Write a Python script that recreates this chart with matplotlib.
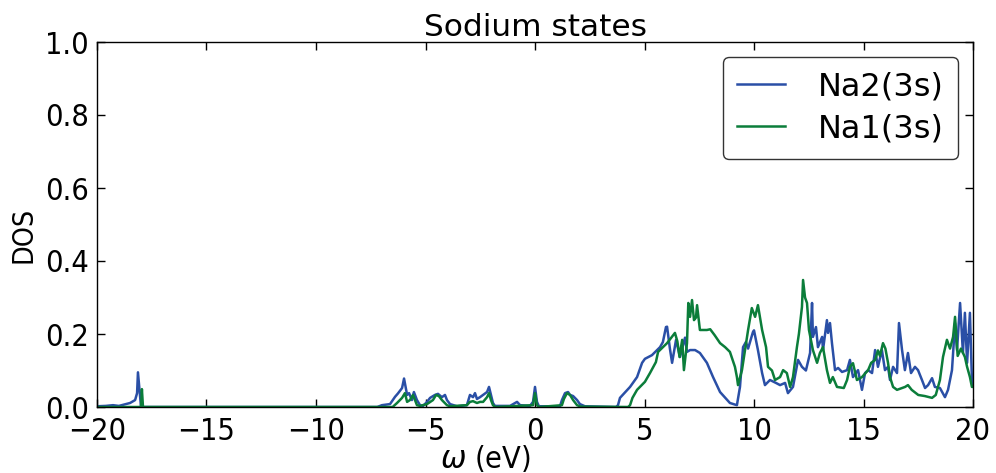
import matplotlib
matplotlib.use("Agg")
import matplotlib.pyplot as plt
import numpy as np

# Na2(3s) DOS (blue)
na2_x = [-20.0, -19.6, -19.27, -19.0, -18.81, -18.49, -18.26, -18.17, -18.13, -18.06, -17.99,
         -7.2, -6.99, -6.62, -6.39, -6.26, -6.07, -5.98, -5.84, -5.75, -5.62, -5.53, -5.39, -5.25,
         -5.11, -4.93, -4.79, -4.57, -4.43, -4.25, -4.11, -4.02, -3.88, -3.56, -3.11,
         -2.97, -2.83, -2.74, -2.65, -2.51, -2.37, -2.19, -2.10, -2.01, -1.92, -1.83,
         -1.14, -0.91, -0.82, -0.68, -0.23, -0.09, 0.0, 0.09, 0.18,
         1.14, 1.23, 1.37, 1.51, 1.60, 1.74, 1.92, 2.05, 2.28,
         3.70, 3.79, 3.88, 4.34, 4.66, 4.89, 5.02, 5.34, 5.71, 5.84, 5.98, 6.03, 6.16, 6.26,
         6.44, 6.62, 6.85, 6.94, 7.08, 7.31, 7.53, 7.85, 8.13, 8.45, 8.90, 9.22,
         9.36, 9.50, 9.63, 9.73, 9.95, 10.0, 10.18, 10.37, 10.50, 10.73, 11.0, 11.19, 11.42,
         11.55, 11.78, 12.01, 12.19, 12.37, 12.56, 12.65, 12.69, 12.83, 12.92, 13.11, 13.15,
         13.33, 13.38, 13.47, 13.56, 13.70, 13.84, 14.02, 14.25, 14.38, 14.52, 14.75, 14.93,
         15.07, 15.21, 15.39, 15.53, 15.66, 15.84, 15.98, 16.12, 16.21, 16.35, 16.53, 16.62,
         16.76, 16.89, 17.03, 17.17, 17.35, 17.49, 17.67, 17.81, 17.95, 18.13, 18.26, 18.49,
         18.72, 18.86, 19.04, 19.18, 19.27, 19.41, 19.54, 19.63, 19.73, 19.86, 19.95, 20.0]
na2_y = [0.002, 0.003, 0.005, 0.003, 0.006, 0.011, 0.019, 0.038, 0.095, 0.047, 0.0,
         0.0, 0.005, 0.008, 0.028, 0.037, 0.052, 0.078, 0.033, 0.038, 0.019, 0.041, 0.019, 0.005,
         0.003, 0.014, 0.025, 0.033, 0.036, 0.027, 0.033, 0.019, 0.008, 0.002, 0.005,
         0.033, 0.027, 0.038, 0.022, 0.027, 0.033, 0.041, 0.055, 0.033, 0.011, 0.003,
         0.003, 0.011, 0.014, 0.005, 0.003, 0.014, 0.055, 0.014, 0.002,
         0.002, 0.019, 0.038, 0.041, 0.033, 0.030, 0.019, 0.008, 0.002,
         0.0, 0.005, 0.025, 0.055, 0.082, 0.121, 0.132, 0.142, 0.164, 0.178, 0.219, 0.22, 0.16, 0.121,
         0.184, 0.137, 0.19, 0.151, 0.156, 0.156, 0.148, 0.121, 0.082, 0.041, 0.011, 0.005,
         0.055, 0.164, 0.178, 0.16, 0.205, 0.21, 0.156, 0.093, 0.060, 0.074, 0.066, 0.06, 0.066,
         0.038, 0.055, 0.129, 0.11, 0.10, 0.148, 0.285, 0.192, 0.219, 0.164, 0.192, 0.156,
         0.238, 0.203, 0.23, 0.175, 0.101, 0.107, 0.096, 0.101, 0.129, 0.082, 0.101, 0.047,
         0.093, 0.101, 0.093, 0.156, 0.11, 0.156, 0.101, 0.11, 0.074, 0.11, 0.093, 0.23,
         0.156, 0.101, 0.148, 0.093, 0.11, 0.101, 0.074, 0.052, 0.06, 0.079, 0.055, 0.052,
         0.027, 0.047, 0.101, 0.23, 0.156, 0.285, 0.148, 0.258, 0.121, 0.258, 0.074, 0.06]

# Na1(3s) DOS (green)
na1_x = [-20.0, -17.99, -17.95, -17.90, -6.5, -6.30, -6.07, -5.94, -5.84, -5.71, -5.57, -5.39,
         -5.25, -4.93, -4.66, -4.52, -4.39, -4.25, -4.02, -3.88, -3.11, -2.97, -2.83, -2.65,
         -2.51, -2.37, -2.19, -2.10, -2.01, -1.92, -1.80, -0.09, 0.0, 0.09, 0.2,
         1.23, 1.32, 1.46, 1.60, 1.74, 1.92, 2.1,
         4.25, 4.34, 4.45, 4.66, 5.02, 5.25, 5.52, 5.62, 6.03, 6.39, 6.5, 6.6, 6.72, 6.8,
         6.94, 7.0, 7.08, 7.17, 7.26, 7.35, 7.40, 7.53, 7.85, 8.0, 8.2, 8.45, 8.68, 8.90,
         9.13, 9.22, 9.27, 9.45, 9.59, 9.73, 9.90, 10.05, 10.18, 10.37, 10.55, 10.64, 10.82,
         10.96, 11.19, 11.33, 11.5, 11.65, 11.78, 11.96, 12.05, 12.19, 12.24, 12.33, 12.42,
         12.51, 12.69, 12.88, 13.01, 13.15, 13.33, 13.47, 13.6, 13.79, 14.1, 14.25, 14.38,
         14.52, 14.7, 14.93, 15.21, 15.35, 15.53, 15.66, 15.75, 15.89, 16.0, 16.12, 16.21,
         16.35, 16.53, 16.9, 17.03, 17.2, 17.5, 17.8, 18.13, 18.3, 18.49, 18.63, 18.81,
         18.95, 19.09, 19.18, 19.3, 19.45, 19.63, 19.73, 19.86, 19.95, 20.0]
na1_y = [0.0, 0.0, 0.049, 0.0, 0.0, 0.011, 0.025, 0.038, 0.014, 0.019, 0.033, 0.005,
         0.003, 0.008, 0.019, 0.033, 0.030, 0.019, 0.005, 0.002, 0.005, 0.014, 0.016, 0.011,
         0.014, 0.014, 0.027, 0.038, 0.019, 0.005, 0.0, 0.005, 0.038, 0.005, 0.0,
         0.005, 0.022, 0.038, 0.033, 0.019, 0.005, 0.001,
         0.0, 0.005, 0.025, 0.047, 0.069, 0.093, 0.123, 0.151, 0.175, 0.203, 0.18, 0.137, 0.184, 0.101,
         0.175, 0.285, 0.247, 0.293, 0.238, 0.245, 0.279, 0.211, 0.211, 0.213, 0.197, 0.175, 0.164, 0.151,
         0.110, 0.082, 0.060, 0.101, 0.156, 0.211, 0.271, 0.247, 0.279, 0.211, 0.164, 0.110, 0.10,
         0.074, 0.082, 0.101, 0.093, 0.055, 0.082, 0.164, 0.20, 0.274, 0.348, 0.30, 0.285,
         0.211, 0.156, 0.121, 0.148, 0.164, 0.101, 0.066, 0.082, 0.055, 0.052, 0.074, 0.11,
         0.12, 0.074, 0.082, 0.101, 0.121, 0.129, 0.155, 0.14, 0.175, 0.16, 0.121, 0.082,
         0.055, 0.047, 0.055, 0.060, 0.047, 0.033, 0.030, 0.025, 0.033, 0.074, 0.137, 0.184,
         0.16, 0.192, 0.247, 0.14, 0.16, 0.137, 0.110, 0.082, 0.055, 0.055]

series_labels = ["Na2(3s)", "Na1(3s)"]
title = "Sodium states"
xlabel = r"$\omega$ (eV)"
ylabel = "DOS"
xticks = [-20, -15, -10, -5, 0, 5, 10, 15, 20]
yticks = [0.0, 0.2, 0.4, 0.6, 0.8, 1.0]

plt.rcParams['font.family'] = ['DejaVu Sans']
plt.rcParams['mathtext.fontset'] = 'dejavusans'

fig = plt.figure(figsize=(9.96, 4.73), dpi=100)
ax = fig.add_axes([97/996, 66/473, 876/996, 365/473])

ax.plot(na2_x, na2_y, color="#2a4fa6", lw=1.8, label=series_labels[0])
ax.plot(na1_x, na1_y, color="#0b7d3a", lw=1.8, label=series_labels[1])

ax.set_xlim(-20, 20)
ax.set_ylim(0, 1.0)
ax.set_xticks(xticks)
ax.set_yticks(yticks)
ax.set_xticklabels([("\u2212%d" % -t) if t < 0 else "%d" % t for t in xticks])
ax.set_yticklabels(["%.1f" % t for t in yticks])
ax.tick_params(direction="in", top=True, right=True, length=6, width=1,
               labelsize=22)
ax.tick_params(axis="x", pad=7)
ax.tick_params(axis="y", pad=6)
for lab in ax.get_xticklabels() + ax.get_yticklabels():
    lab.set_fontstretch("condensed")
for sp in ax.spines.values():
    sp.set_linewidth(1.0)
    sp.set_color("black")

ax.set_title(title, fontsize=22.5, pad=4)
ax.set_xlabel(xlabel, fontsize=22, fontstretch="condensed")
ax.xaxis.set_label_coords(0.444, -0.098)
ax.set_ylabel(ylabel, fontsize=20.5, fontstretch="condensed")
ax.yaxis.set_label_coords(-0.068, 0.471)

leg = ax.legend(loc="upper right", fontsize=23, frameon=True, fancybox=True,
                handlelength=1.5, handletextpad=1.03, borderpad=0.45,
                labelspacing=0.35, borderaxespad=0, bbox_to_anchor=(0.983, 0.959))
leg.get_frame().set_edgecolor("black")
leg.get_frame().set_linewidth(1.0)

fig.savefig("out.png", dpi=100)
